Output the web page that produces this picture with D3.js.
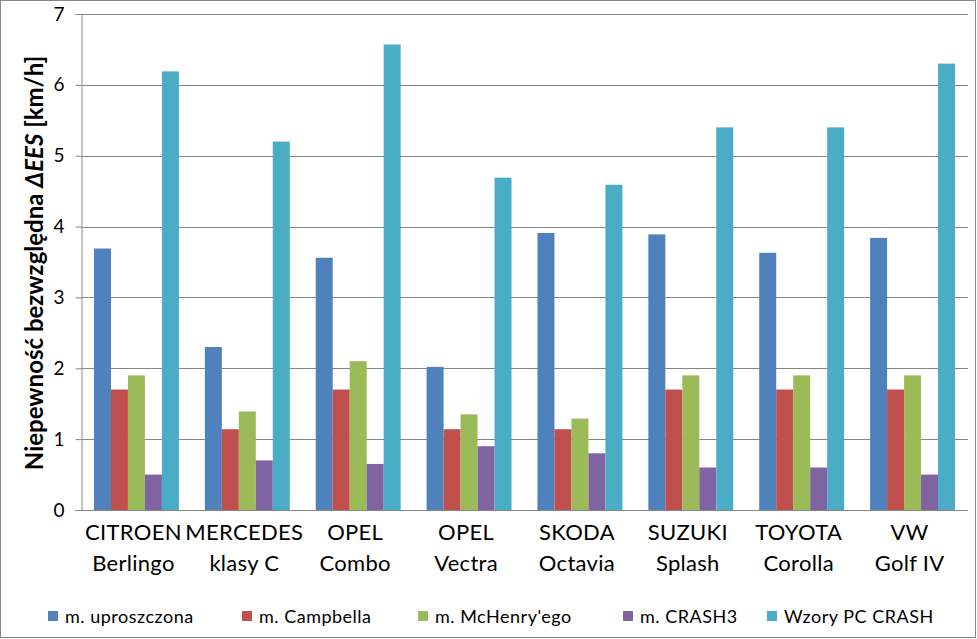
<!DOCTYPE html>
<html>
<head>
<meta charset="utf-8">
<script src="https://cdn.jsdelivr.net/npm/d3@7"></script>
<style>
  html, body { margin: 0; padding: 0; background: #fff; }
  svg { display: block; font-family: Lato, "Open Sans", sans-serif; }
</style>
</head>
<body>
<svg id="chart" width="977" height="639"></svg>
<script>
const categoriesLine1 = ["CITROEN", "MERCEDES", "OPEL", "OPEL", "SKODA", "SUZUKI", "TOYOTA", "VW"];
const categoriesLine2 = ["Berlingo", "klasy C", "Combo", "Vectra", "Octavia", "Splash", "Corolla", "Golf IV"];
const seriesNames = ["m. uproszczona", "m. Campbella", "m. McHenry'ego", "m. CRASH3", "Wzory PC CRASH"];
const seriesColors = ["#4F81BD", "#C0504D", "#9BBB59", "#8064A2", "#4BACC6"];
const uproszczona = [3.69, 2.30, 3.56, 2.02, 3.91, 3.89, 3.63, 3.84];
const campbella   = [1.70, 1.14, 1.70, 1.14, 1.14, 1.70, 1.70, 1.70];
const mchenry     = [1.90, 1.39, 2.10, 1.35, 1.29, 1.90, 1.90, 1.90];
const crash3      = [0.50, 0.70, 0.65, 0.90, 0.80, 0.60, 0.60, 0.50];
const pcCrash     = [6.19, 5.20, 6.57, 4.69, 4.59, 5.40, 5.40, 6.30];
const yTicks = [0, 1, 2, 3, 4, 5, 6, 7];

const seriesValues = [uproszczona, campbella, mchenry, crash3, pcCrash];

const svg = d3.select("#chart");
const plot = { left: 81, right: 968, top: 14, bottom: 510 };

// outer border
svg.append("rect").attr("x", 0.5).attr("y", 0.5).attr("width", 975).attr("height", 637)
  .attr("fill", "#fff").attr("stroke", "#868686").attr("stroke-width", 1);

const idx = d3.range(categoriesLine1.length);
const x = d3.scaleBand().domain(idx).range([plot.left, plot.right])
  .paddingInner(0.234).paddingOuter(0.117);
const xs = d3.scaleBand().domain(d3.range(seriesNames.length)).range([0, x.bandwidth()]);
const y = d3.scaleLinear().domain([0, 7]).range([plot.bottom, plot.top]);

// gridlines
svg.append("g").selectAll("line").data(yTicks.filter(t => t > 0)).join("line")
  .attr("x1", plot.left).attr("x2", plot.right)
  .attr("y1", d => Math.round(y(d)) + 0.5).attr("y2", d => Math.round(y(d)) + 0.5)
  .attr("stroke", "#868686").attr("stroke-width", 1);

// bars
const groups = svg.append("g").selectAll("g").data(idx).join("g")
  .attr("transform", i => `translate(${x(i)},0)`);
groups.selectAll("rect").data(i => seriesValues.map((vals, s) => ({ s, v: vals[i] }))).join("rect")
  .attr("x", d => xs(d.s)).attr("width", xs.bandwidth())
  .attr("y", d => y(d.v)).attr("height", d => y(0) - y(d.v))
  .attr("fill", d => seriesColors[d.s]);

// y axis
const yAxis = d3.axisLeft(y).tickValues(yTicks).tickSize(6).tickPadding(11).tickFormat(d3.format("d"));
const ya = svg.append("g").attr("transform", `translate(${plot.left + 0.5},0)`).call(yAxis);
ya.select(".domain").attr("stroke", "#868686");
ya.selectAll(".tick line").attr("stroke", "#868686");
ya.selectAll(".tick text").attr("font-size", 19).attr("fill", "#000")
  .attr("font-family", "Lato, sans-serif");

// x axis baseline
svg.append("line").attr("x1", plot.left - 6).attr("x2", plot.right)
  .attr("y1", plot.bottom + 0.5).attr("y2", plot.bottom + 0.5)
  .attr("stroke", "#868686");

// category labels
const lbl = svg.append("g").selectAll("text").data(idx).join("text")
  .attr("text-anchor", "middle").attr("font-size", 22).attr("letter-spacing", 0.3).attr("fill", "#000");
lbl.append("tspan").attr("x", i => x(i) + x.bandwidth() / 2 - 3).attr("y", 540).text(i => categoriesLine1[i]);
lbl.append("tspan").attr("x", i => x(i) + x.bandwidth() / 2 - 3).attr("y", 571).text(i => categoriesLine2[i]);

// y title
const yt = svg.append("text")
  .attr("transform", "translate(43,263) rotate(-90)")
  .attr("text-anchor", "middle").attr("font-size", 24).attr("font-weight", "bold").attr("fill", "#000");
yt.append("tspan").text("Niepewność bezwzględna ");
yt.append("tspan").attr("font-style", "italic").text("ΔEES");
yt.append("tspan").text(" [km/h]");

// legend
const legendX = [48, 242, 418, 623, 767];
const lg = svg.append("g").selectAll("g").data(seriesNames).join("g")
  .attr("transform", (d, i) => `translate(${legendX[i]},611)`);
lg.append("rect").attr("width", 10).attr("height", 10).attr("fill", (d, i) => seriesColors[i]);
lg.append("text").attr("x", 17).attr("y", 11.5).attr("font-size", 18).attr("letter-spacing", 0.5)
  .attr("fill", "#000").text(d => d);
</script>
</body>
</html>
